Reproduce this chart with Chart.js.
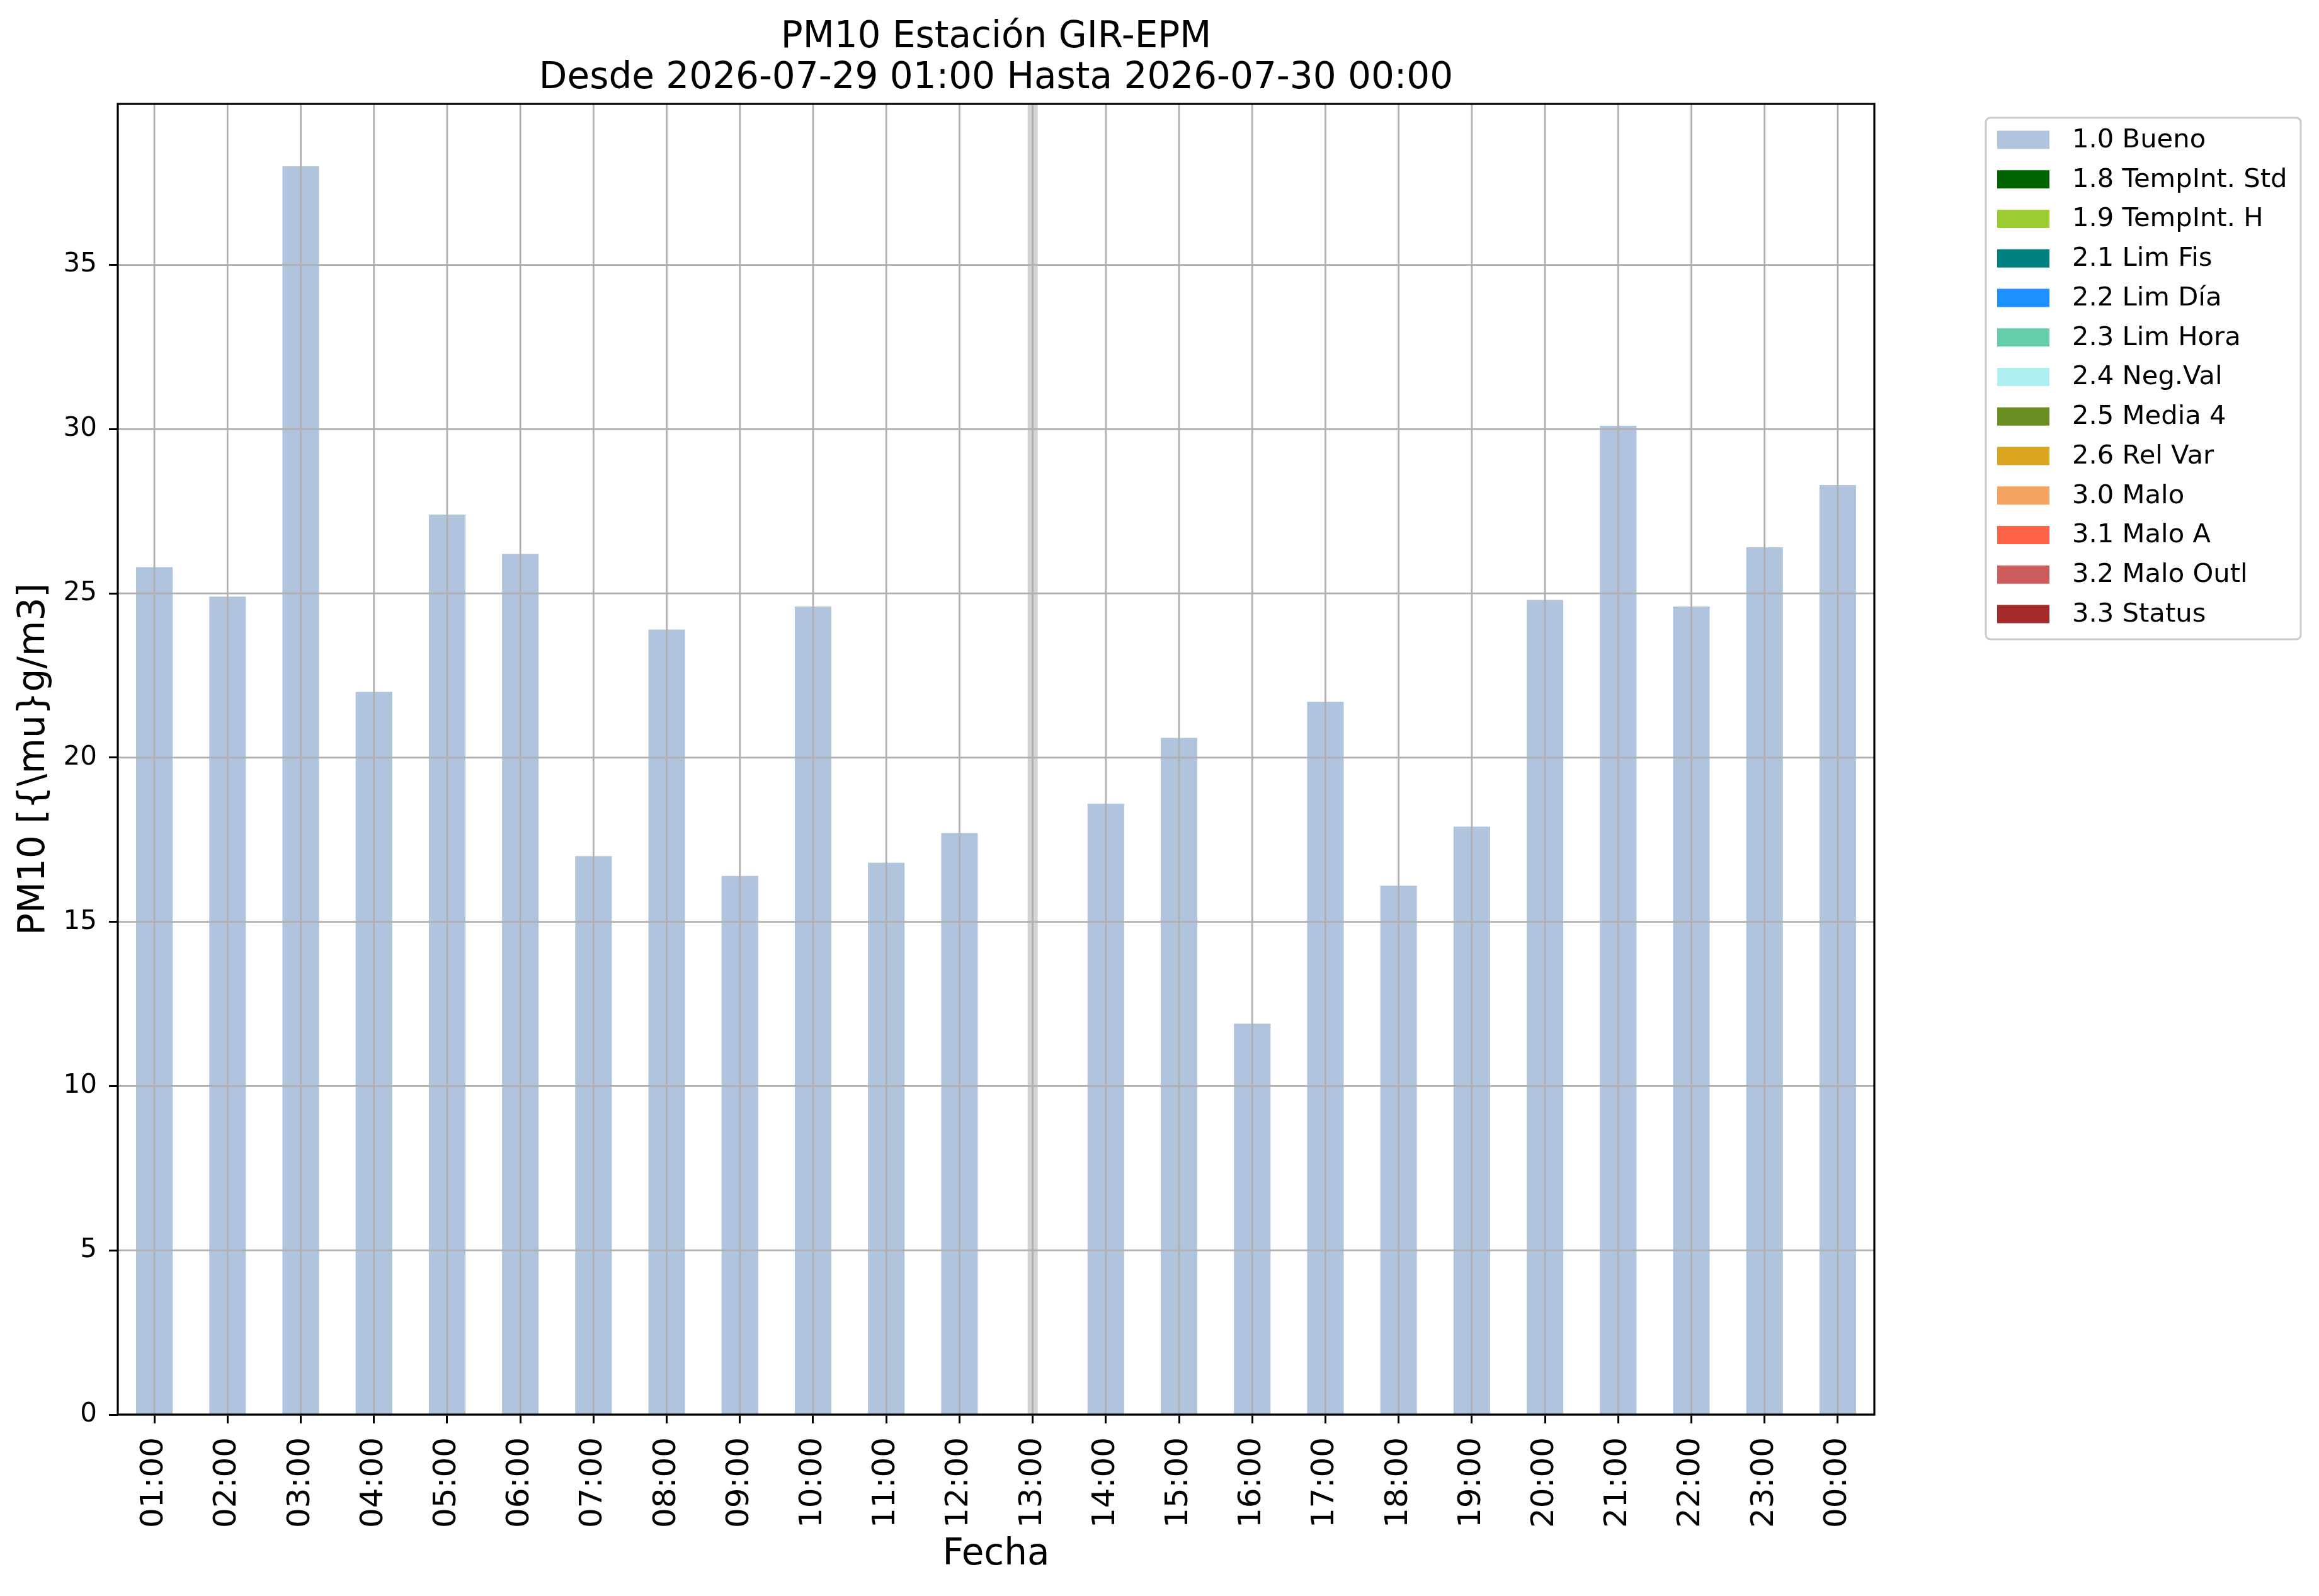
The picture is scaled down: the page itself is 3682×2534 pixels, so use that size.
<!DOCTYPE html>
<html>
<head>
<meta charset="utf-8">
<script src="https://cdn.jsdelivr.net/npm/chart.js@4/dist/chart.umd.min.js"></script>
<style>
html,body{margin:0;padding:0;background:#ffffff;}
#wrap{width:3682px;height:2534px;}
#c{display:block;}
</style>
</head>
<body>
<div id="wrap"><canvas id="c" width="3682" height="2534" style="width:3682px;height:2534px"></canvas></div>
<script>
// ---- data ----
const hours = ['01:00','02:00','03:00','04:00','05:00','06:00','07:00','08:00','09:00','10:00','11:00','12:00',
               '13:00','14:00','15:00','16:00','17:00','18:00','19:00','20:00','21:00','22:00','23:00','00:00'];
const pm10Values = [25.8,24.9,38.0,22.0,27.4,26.2,17.0,23.9,16.4,24.6,16.8,17.7,
                    null,18.6,20.6,11.9,21.7,16.1,17.9,24.8,30.1,24.6,26.4,28.3];
const flagLabels = ['1.0 Bueno','1.8 TempInt. Std','1.9 TempInt. H','2.1 Lim Fis','2.2 Lim Día','2.3 Lim Hora',
                    '2.4 Neg.Val','2.5 Media 4','2.6 Rel Var','3.0 Malo','3.1 Malo A','3.2 Malo Outl','3.3 Status'];
const flagColors = ['#b0c4de','#006400','#9acd32','#008080','#1e90ff','#66cdaa',
                    '#afeeee','#6b8e23','#daa520','#f4a460','#ff6347','#cd5c5c','#a52a2a'];
const yTickValues = [0,5,10,15,20,25,30,35];
const missingHours = ['13:00'];
const titleLines = ['PM10 Estación GIR-EPM','Desde 2026-07-29 01:00 Hasta 2026-07-30 00:00'];
const yAxisTitle = 'PM10 [{\\mu}g/m3]';
const xAxisTitle = 'Fecha';
const yMin = 0;
const yMax = 39.9;

// ---- styling ----
const FONT = "'DejaVu Sans', sans-serif";
const W = 3682, H = 2534;
const AREA = {left:187, right:2976, top:165, bottom:2246};
const GRID_COLOR = '#b0b0b0';

const datasets = flagLabels.map((lab, i) => ({
  label: lab,
  data: i === 0 ? pm10Values : hours.map(() => null),
  backgroundColor: flagColors[i],
  borderWidth: 0,
  barPercentage: 0.5,
  categoryPercentage: 1.0,
  grouped: false
}));

const customPlugin = {
  id: 'mplStyle',
  beforeDatasetsDraw(chart) {
    const ctx = chart.ctx, a = chart.chartArea, xs = chart.scales.x;
    ctx.save();
    ctx.fillStyle = '#d3d3d3';
    missingHours.forEach(h => {
      const idx = hours.indexOf(h);
      const x0 = xs.getPixelForValue(idx - 0.069);
      const x1 = xs.getPixelForValue(idx + 0.069);
      ctx.fillRect(x0, a.top, x1 - x0, a.bottom - a.top);
    });
    ctx.restore();
  },
  afterDatasetsDraw(chart) {
    const ctx = chart.ctx, a = chart.chartArea, xs = chart.scales.x, ys = chart.scales.y;
    ctx.save();
    ctx.strokeStyle = GRID_COLOR;
    ctx.lineWidth = 2.8;
    xs.ticks.forEach((t, i) => {
      const x = xs.getPixelForTick(i);
      ctx.beginPath(); ctx.moveTo(x, a.top); ctx.lineTo(x, a.bottom); ctx.stroke();
    });
    ys.ticks.forEach((t, i) => {
      const y = ys.getPixelForValue(t.value);
      ctx.beginPath(); ctx.moveTo(a.left, y); ctx.lineTo(a.right, y); ctx.stroke();
    });
    // frame
    ctx.strokeStyle = '#000';
    ctx.lineWidth = 3.2;
    ctx.strokeRect(a.left, a.top, a.right - a.left, a.bottom - a.top);
    ctx.restore();
  },
  afterDraw(chart) {
    const ctx = chart.ctx, a = chart.chartArea;
    ctx.save();
    // title
    ctx.fillStyle = '#000';
    ctx.font = '58px ' + FONT;
    ctx.textAlign = 'center';
    ctx.textBaseline = 'alphabetic';
    const cx = (a.left + a.right) / 2;
    ctx.fillText(titleLines[0], cx, 75);
    ctx.fillText(titleLines[1], cx, 140);
    // legend
    const lx = 3153, ly = 187, lw = 500, lh = 828, r = 8;
    ctx.beginPath();
    ctx.moveTo(lx + r, ly);
    ctx.lineTo(lx + lw - r, ly); ctx.quadraticCurveTo(lx + lw, ly, lx + lw, ly + r);
    ctx.lineTo(lx + lw, ly + lh - r); ctx.quadraticCurveTo(lx + lw, ly + lh, lx + lw - r, ly + lh);
    ctx.lineTo(lx + r, ly + lh); ctx.quadraticCurveTo(lx, ly + lh, lx, ly + lh - r);
    ctx.lineTo(lx, ly + r); ctx.quadraticCurveTo(lx, ly, lx + r, ly);
    ctx.closePath();
    ctx.fillStyle = 'rgba(255,255,255,0.8)';
    ctx.fill();
    ctx.strokeStyle = '#cccccc';
    ctx.lineWidth = 3;
    ctx.stroke();
    ctx.font = '41.7px ' + FONT;
    ctx.textAlign = 'left';
    ctx.textBaseline = 'middle';
    chart.data.datasets.forEach((ds, i) => {
      const cy = 222 + i * 62.75;
      ctx.fillStyle = ds.backgroundColor;
      ctx.fillRect(3171, cy - 14.5, 83, 29);
      ctx.fillStyle = '#000';
      ctx.fillText(ds.label, 3290, cy + 1);
    });
    ctx.restore();
  }
};

const chart = new Chart(document.getElementById('c'), {
  type: 'bar',
  data: { labels: hours, datasets: datasets },
  options: {
    responsive: false,
    maintainAspectRatio: false,
    animation: false,
    devicePixelRatio: 1,
    layout: { padding: { left: 0, top: AREA.top, right: W - AREA.right, bottom: 0 } },
    plugins: {
      legend: { display: false },
      title: { display: false },
      tooltip: { enabled: false }
    },
    scales: {
      x: {
        type: 'category',
        offset: true,
        border: { display: false },
        grid: { display: true, drawOnChartArea: false, drawTicks: true, tickLength: 14, tickWidth: 3, tickColor: '#000', offset: false },
        ticks: { autoSkip: false, minRotation: 90, maxRotation: 90, padding: 22, color: '#000', font: { family: FONT, size: 50 } },
        title: { display: true, text: xAxisTitle, color: '#000', font: { family: FONT, size: 58 }, padding: { top: 0, bottom: 30 } },
        afterFit(s) { s.height = H - AREA.bottom; }
      },
      y: {
        type: 'linear',
        min: yMin,
        max: yMax,
        border: { display: false },
        grid: { display: true, drawOnChartArea: false, drawTicks: true, tickLength: 14, tickWidth: 3, tickColor: '#000' },
        afterBuildTicks(s) { s.ticks = yTickValues.map(v => ({ value: v })); },
        ticks: { padding: 19, color: '#000', font: { family: FONT, size: 42 } },
        title: { display: true, text: yAxisTitle, color: '#000', font: { family: FONT, size: 58 }, padding: { top: 20, bottom: 0 } },
        afterFit(s) { s.width = AREA.left; }
      }
    }
  },
  plugins: [customPlugin]
});
</script>
</body>
</html>
